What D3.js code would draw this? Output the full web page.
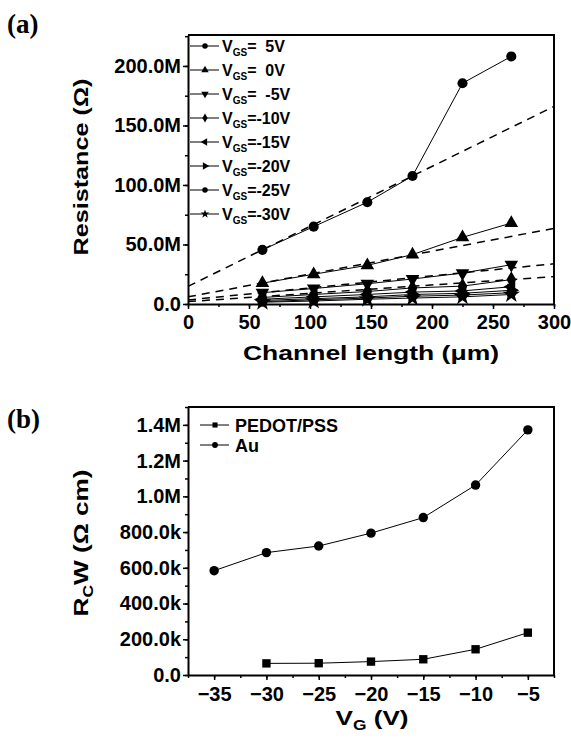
<!DOCTYPE html>
<html>
<head>
<meta charset="utf-8">
<script src="https://cdn.jsdelivr.net/npm/d3@7"></script>
<style>
  body { margin: 0; background: #fff; }
  svg { display: block; font-family: "Liberation Sans", Arial, sans-serif; font-weight: bold; }
  text { white-space: pre; }
</style>
</head>
<body>
<svg id="fig" width="571" height="742"></svg>
<script>
// ---- panel (a) data ----
const lengths = [61, 103, 147, 184, 225, 265];
const vgsLabels = ['=  5V', '=  0V', '=  -5V', '=-10V', '=-15V', '=-20V', '=-25V', '=-30V'];
const res5 = [45.5, 65, 85.5, 107.5, 185.5, 208];
const res0 = [17.5, 25, 32.5, 41.5, 56, 68];
const resM5 = [9.5, 13, 17, 21, 26, 33];
const resM10 = [5.5, 8, 10.5, 13.5, 15, 20.5];
const resM15 = [4, 6, 8, 10, 11, 14.5];
const resM20 = [3, 4.5, 6, 8, 9, 11.5];
const resM25 = [2, 3.5, 5, 6.5, 7.5, 9.5];
const resM30 = [1.5, 2.5, 4, 5, 6, 8];
// linear fits, value at L=0 and L=300 (M ohm)
const fitStart = [14.8, 6, 3.4, 2];
const fitEnd = [166, 63.5, 33.8, 23];

// ---- panel (b) data ----
const vg = [-35, -30, -25, -20, -15, -10, -5];
const pedot = [null, 65e3, 66e3, 75e3, 88e3, 144e3, 237e3];
const au = [584e3, 685e3, 722e3, 794e3, 881e3, 1063e3, 1372e3];

const svg = d3.select('#fig');
svg.append('rect').attr('width', 571).attr('height', 742).attr('fill', '#fff');

const shapes = [
	{ type: d3.symbolCircle, rot: 0 },
	{ type: d3.symbolTriangle, rot: 0 },
	{ type: d3.symbolTriangle, rot: 180 },
	{ type: d3.symbolDiamond, rot: 0 },
	{ type: d3.symbolTriangle, rot: -90 },
	{ type: d3.symbolTriangle, rot: 90 },
	{ type: d3.symbolCircle, rot: 0 },
	{ type: d3.symbolStar, rot: 0 }
];
const square = { type: d3.symbolSquare, rot: 0 };

function drawMarker(g, shape, x, y, size) {
	g.append('path')
		.attr('d', d3.symbol(shape.type, size)())
		.attr('transform', `translate(${x},${y}) rotate(${shape.rot})`)
		.attr('fill', '#000');
}

function frame(g, x, y) {
	const [x0, x1] = x.range();
	const [y0, y1] = y.range();
	g.append('path')
		.attr('d', `M${x0},${y1}H${x1}V${y0}`)
		.attr('fill', 'none').attr('stroke', '#000').attr('stroke-width', 2);
}

function styleAxis(a) {
	a.select('.domain').attr('stroke-width', 2);
	a.selectAll('.tick line').attr('stroke-width', 1.5);
	a.selectAll('text').attr('font-weight', 'bold').attr('font-size', 20)
		.attr('font-family', '"Liberation Sans", Arial, sans-serif');
}

function minorAxis(g, axis) {
	const a = g.append('g').call(axis.tickFormat(''));
	a.selectAll('.tick line').attr('stroke-width', 1.5);
	a.select('.domain').remove();
	return a;
}

// ===================== (a) =====================
const xa = d3.scaleLinear().domain([0, 300]).range([188, 554]);
const ya = d3.scaleLinear().domain([0, 226]).range([304, 35]);
const ga = svg.append('g');

const series = [res5, res0, resM5, resM10, resM15, resM20, resM25, resM30];

// fits (dashed)
fitStart.forEach((s, i) => {
	ga.append('line')
		.attr('x1', xa(0)).attr('y1', ya(s))
		.attr('x2', xa(300)).attr('y2', ya(fitEnd[i]))
		.attr('stroke', '#000').attr('stroke-width', 1.5)
		.attr('stroke-dasharray', '8,6');
});

const lineA = d3.line().x((d, i) => xa(lengths[i])).y(d => ya(d));
series.forEach((s, k) => {
	ga.append('path').attr('d', lineA(s)).attr('fill', 'none')
		.attr('stroke', '#000').attr('stroke-width', 1);
	s.forEach((v, i) => drawMarker(ga, shapes[k], xa(lengths[i]), ya(v), k === 7 ? 95 : 80));
});

// axes
minorAxis(ga, d3.axisLeft(ya).tickValues(d3.range(0, 226, 25)).tickSize(3))
	.attr('transform', `translate(${xa(0)},0)`);
const axL = ga.append('g').attr('transform', `translate(${xa(0)},0)`)
	.call(d3.axisLeft(ya).tickValues([0, 50, 100, 150, 200]).tickSize(5).tickSizeOuter(0).tickPadding(2)
		.tickFormat(d => d === 0 ? '0.0' : d3.format('.1f')(d) + 'M'));
styleAxis(axL);

minorAxis(ga, d3.axisBottom(xa).tickValues(d3.range(0, 301, 25)).tickSize(3))
	.attr('transform', `translate(0,${ya(0)})`);
const axB = ga.append('g').attr('transform', `translate(0,${ya(0)})`)
	.call(d3.axisBottom(xa).tickValues(d3.range(0, 301, 50)).tickSize(5).tickSizeOuter(0).tickPadding(6));
styleAxis(axB);
frame(ga, xa, ya);

// legend
vgsLabels.forEach((lab, i) => {
	const yy = 46 + i * 24;
	ga.append('line').attr('x1', 190).attr('x2', 219).attr('y1', yy).attr('y2', yy)
		.attr('stroke', '#000').attr('stroke-width', 1);
	drawMarker(ga, shapes[i], 205, yy, 24);
	const t = ga.append('text').attr('x', 222).attr('y', yy + 6).attr('font-size', 16);
	t.append('tspan').text('V');
	t.append('tspan').attr('font-size', 10).attr('dy', 4).text('GS');
	t.append('tspan').attr('dy', -4).text(lab);
});

ga.append('text').attr('transform', 'translate(88,167) rotate(-90)')
	.attr('text-anchor', 'middle').attr('font-size', 21)
	.attr('textLength', 177).attr('lengthAdjust', 'spacingAndGlyphs').text('Resistance (Ω)');
ga.append('text').attr('x', 371).attr('y', 360)
	.attr('text-anchor', 'middle').attr('font-size', 21)
	.attr('textLength', 256).attr('lengthAdjust', 'spacingAndGlyphs').text('Channel length (μm)');
svg.append('text').attr('x', 7).attr('y', 33).attr('font-family', '"Liberation Serif", serif')
	.attr('font-size', 27).text('(a)');

// ===================== (b) =====================
const xb = d3.scaleLinear().domain([-37.5, -2.5]).range([188, 554]);
const yb = d3.scaleLinear().domain([0, 1.5e6]).range([675, 407]);
const gb = svg.append('g');

const lineB = d3.line().defined(d => d != null).x((d, i) => xb(vg[i])).y(d => yb(d));
gb.append('path').attr('d', lineB(pedot)).attr('fill', 'none').attr('stroke', '#000').attr('stroke-width', 1);
gb.append('path').attr('d', lineB(au)).attr('fill', 'none').attr('stroke', '#000').attr('stroke-width', 1);
pedot.forEach((v, i) => { if (v != null) drawMarker(gb, square, xb(vg[i]), yb(v), 70); });
au.forEach((v, i) => drawMarker(gb, shapes[0], xb(vg[i]), yb(v), 70));

minorAxis(gb, d3.axisLeft(yb).tickValues(d3.range(0, 1.5e6 + 1, 1e5)).tickSize(3))
	.attr('transform', `translate(${xb(-37.5)},0)`);
const bL = gb.append('g').attr('transform', `translate(${xb(-37.5)},0)`)
	.call(d3.axisLeft(yb).tickValues(d3.range(0, 1.4e6 + 1, 2e5)).tickSize(5).tickSizeOuter(0).tickPadding(2)
		.tickFormat(d => d === 0 ? '0.0' : d >= 1e6 ? d3.format('.1f')(d / 1e6) + 'M' : d3.format('.1f')(d / 1e3) + 'k'));
styleAxis(bL);

minorAxis(gb, d3.axisBottom(xb).tickValues(d3.range(-37.5, -2.4, 2.5)).tickSize(3))
	.attr('transform', `translate(0,${yb(0)})`);
const bB = gb.append('g').attr('transform', `translate(0,${yb(0)})`)
	.call(d3.axisBottom(xb).tickValues(vg).tickSize(5).tickSizeOuter(0).tickPadding(7));
styleAxis(bB);
frame(gb, xb, yb);

// legend (b)
[['PEDOT/PSS', square], ['Au', shapes[0]]].forEach(([lab, sh], i) => {
	const yy = 425 + i * 20;
	gb.append('line').attr('x1', 200).attr('x2', 229).attr('y1', yy).attr('y2', yy)
		.attr('stroke', '#000').attr('stroke-width', 1);
	drawMarker(gb, sh, 215, yy, 26);
	gb.append('text').attr('x', 235).attr('y', yy + 7).attr('font-size', 18).text(lab);
});

const rl = gb.append('text').attr('transform', 'translate(88,543) rotate(-90)')
	.attr('text-anchor', 'middle').attr('font-size', 21)
	.attr('textLength', 147).attr('lengthAdjust', 'spacingAndGlyphs');
rl.append('tspan').text('R');
rl.append('tspan').attr('font-size', 14).attr('dy', 5).text('C');
rl.append('tspan').attr('dy', -5).text('W (Ω cm)');

const xl = gb.append('text').attr('x', 372).attr('y', 725).attr('text-anchor', 'middle')
	.attr('font-size', 21).attr('textLength', 73).attr('lengthAdjust', 'spacingAndGlyphs');
xl.append('tspan').text('V');
xl.append('tspan').attr('font-size', 14).attr('dy', 5).text('G');
xl.append('tspan').attr('dy', -5).text(' (V)');

svg.append('text').attr('x', 7).attr('y', 428).attr('font-family', '"Liberation Serif", serif')
	.attr('font-size', 27).text('(b)');
</script>
</body>
</html>
